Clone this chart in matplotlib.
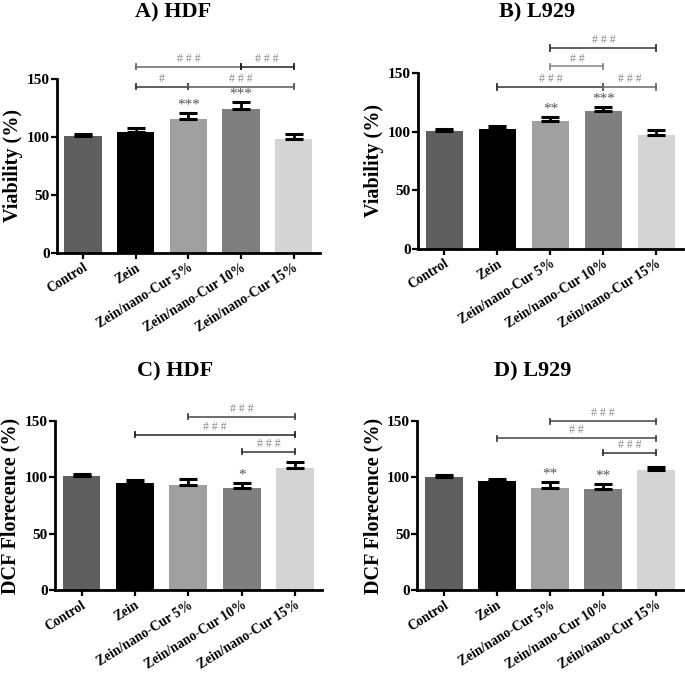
import matplotlib
matplotlib.use("Agg")
import matplotlib.pyplot as plt
import numpy as np

plt.rcParams['font.family'] = ['Liberation Serif', 'DejaVu Serif']
plt.rcParams['font.weight'] = 'bold'
plt.rcParams['axes.labelweight'] = 'bold'
plt.rcParams['axes.titleweight'] = 'bold'

groups = ["Control", "Zein", "Zein/nano-Cur 5%", "Zein/nano-Cur 10%", "Zein/nano-Cur 15%"]
bar_colors = ["#5f5f5f", "#000000", "#a0a0a0", "#7f7f7f", "#d4d4d4"]

# mean values and upper error (SD)
viab_hdf = [100.6, 104.3, 115.2, 124.3, 98.0]
viab_hdf_err = [2.4, 3.8, 5.2, 5.8, 4.4]
viab_l929 = [100.2, 102.5, 108.7, 117.8, 97.0]
viab_l929_err = [2.3, 2.0, 3.7, 3.5, 4.0]
dcf_hdf = [100.9, 95.2, 93.2, 90.9, 108.8]
dcf_hdf_err = [2.2, 2.2, 5.4, 4.0, 4.8]
dcf_l929 = [100.3, 96.6, 90.9, 90.0, 106.5]
dcf_l929_err = [2.3, 2.1, 4.8, 4.6, 3.2]

# brackets: (start, end, height, label, line colour)
br_a = [(1, 3, 160.6, "# # #", "#666666"), (3, 4, 160.6, "# # #", "#222222"),
        (1, 2, 143.4, "#", "#333333"), (2, 4, 143.4, "# # #", "#555555")]
br_b = [(2, 4, 171.4, "# # #", "#333333"), (2, 3, 155.7, "# #", "#888888"),
        (1, 3, 138.0, "# # #", "#333333"), (3, 4, 138.0, "# # #", "#666666")]
br_c = [(2, 4, 154.0, "# # #", "#444444"), (1, 4, 137.8, "# # #", "#222222"),
        (3, 4, 123.0, "# # #", "#333333")]
br_d = [(2, 4, 150.0, "# # #", "#444444"), (1, 4, 135.0, "# #", "#444444"),
        (3, 4, 122.0, "# # #", "#333333")]

# significance stars vs control: (bar index, text)
st_a = [(2, "***"), (3, "***")]
st_b = [(2, "**"), (3, "***")]
st_c = [(3, "*")]
st_d = [(2, "**"), (3, "**")]


def draw_panel(ax, vals, errs, brackets, stars, ylabel):
    x = np.arange(len(groups))
    ax.bar(x, vals, width=0.71, color=bar_colors, zorder=2)
    ax.errorbar(x, vals, yerr=[np.zeros(len(vals)), errs], fmt='none',
                ecolor='black', elinewidth=2, capsize=6.5, capthick=2.2, zorder=3)
    ax.set_xlim(-0.5, 4.5)
    ax.set_ylim(0, 150)
    ax.set_yticks([0, 50, 100, 150])
    ax.set_xticks(x)
    ax.set_xticklabels(groups, rotation=32, ha='right', rotation_mode='anchor', fontsize=9.8)
    ax.tick_params(axis='y', labelsize=11, length=4, width=1.6, pad=1)
    ax.tick_params(axis='x', length=4, width=1.6, pad=2)
    for s in ['top', 'right']:
        ax.spines[s].set_visible(False)
    for s in ['left', 'bottom']:
        ax.spines[s].set_linewidth(2)
    ax.set_ylabel(ylabel, fontsize=14.5, labelpad=3)

    for i, j, h, lab, c in brackets:
        ax.plot([i, j], [h, h], color=c, lw=1.1, clip_on=False, zorder=4)
        for e in (i, j):
            ax.plot([e, e], [h - 2.2, h + 2.2], color=c, lw=1.3, clip_on=False, zorder=4)
        ax.text((i + j) / 2, h + 1.5, lab, ha='center', va='bottom', fontsize=8.5,
                color='#8a8a8a', fontweight='normal', clip_on=False)

    for i, s in stars:
        ax.text(i, vals[i] + errs[i] + 1.2, s, ha='center', va='bottom', fontsize=11,
                color='#555555', fontweight='normal')


fig = plt.figure(figsize=(6.85, 6.76), dpi=100)
ax_a = fig.add_axes([0.083, 0.626, 0.384, 0.257])
ax_b = fig.add_axes([0.610, 0.632, 0.387, 0.260])
ax_c = fig.add_axes([0.080, 0.127, 0.390, 0.250])
ax_d = fig.add_axes([0.609, 0.127, 0.388, 0.250])

draw_panel(ax_a, viab_hdf, viab_hdf_err, br_a, st_a, "Viability (%)")
draw_panel(ax_b, viab_l929, viab_l929_err, br_b, st_b, "Viability (%)")
draw_panel(ax_c, dcf_hdf, dcf_hdf_err, br_c, st_c, "DCF Florecence (%)")
draw_panel(ax_d, dcf_l929, dcf_l929_err, br_d, st_d, "DCF Florecence (%)")

fig.text(0.253, 0.981, "A) HDF", ha='center', va='center', fontsize=16)
fig.text(0.784, 0.981, "B) L929", ha='center', va='center', fontsize=16)
fig.text(0.256, 0.450, "C) HDF", ha='center', va='center', fontsize=16)
fig.text(0.778, 0.450, "D) L929", ha='center', va='center', fontsize=16)

fig.savefig("out.png", dpi=100, facecolor='white')
